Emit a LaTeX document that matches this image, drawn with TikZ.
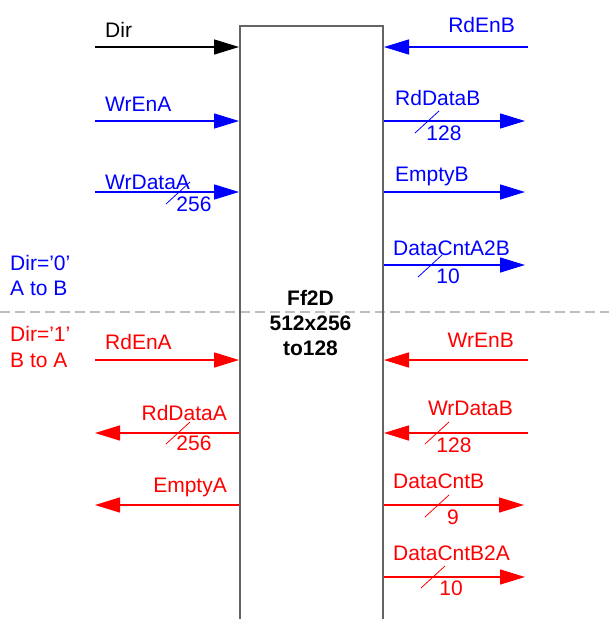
\documentclass[tikz,border=0pt]{standalone}
\usepackage{fontspec}
\setmainfont{Liberation Sans}
\usetikzlibrary{arrows.meta}
\definecolor{sigblue}{RGB}{0,0,255}
\definecolor{sigred}{RGB}{255,0,0}
\definecolor{boxgray}{RGB}{100,100,100}
\definecolor{splitgray}{RGB}{190,190,190}
\tikzset{
  sig/.style={line width=1.5pt, -{Triangle[length=25pt,width=15pt]}},
  bus/.style={line width=0.8pt},
  lbl/.style={font=\fontsize{21}{24}\selectfont, inner sep=0pt},
  lblw/.style={lbl, anchor=base west},
  lble/.style={lbl, anchor=base east},
  num/.style={lbl, anchor=center},
  fifo/.style={draw=boxgray, line width=2pt, minimum width=143pt, minimum height=596pt,
    anchor=north west, inner sep=0pt, align=center,
    font=\fontsize{21}{25}\selectfont\bfseries},
  split/.style={draw=splitgray, line width=2.5pt, dash pattern=on 10pt off 5pt}
}
\begin{document}
\begin{tikzpicture}[x=1pt,y=-1pt]
\useasboundingbox (0,0) rectangle (609,619);

% A/B direction separator
\coordinate (splitL) at (0,312);
\coordinate (splitR) at (609,312);
\draw[split] (splitL) -- (splitR);

% FIFO block
\node[fifo] (ff) at (239,25) {};
\node[lbl, align=center, font=\fontsize{21}{25}\selectfont\bfseries] (fftext) at (310.5,323) {Ff2D\\512x256\\to128};

% free ends of the port lines
\coordinate (dirS) at (95,47);
\coordinate (wrenaS) at (95,121);
\coordinate (wrdataaS) at (95,192);
\coordinate (rdenbS) at (528,47);
\coordinate (rddatabE) at (525,121);
\coordinate (emptybE) at (525,192);
\coordinate (cnta2bE) at (525,265);
\coordinate (rdenaS) at (95,360);
\coordinate (rddataaE) at (95,433);
\coordinate (emptyaE) at (95,505);
\coordinate (wrenbS) at (528,360);
\coordinate (wrdatabS) at (528,433);
\coordinate (cntbE) at (524,505);
\coordinate (cntb2aE) at (525,577);

% direction control
\draw[sig, black] (dirS) -- (ff.west |- dirS);
\node[lblw] (dirL) at (105,37) {Dir};

% A to B (blue)
\begin{scope}[draw=sigblue, color=sigblue]
\draw[sig] (wrenaS) -- (ff.west |- wrenaS);
\node[lblw] (wrenaL) at (105,111) {WrEnA};
\draw[sig] (wrdataaS) -- (ff.west |- wrdataaS);
\node[lblw] (wrdataaL) at (105,189) {WrDataA};
\draw[bus] (166,204) -- ++(24,-22);
\node[num] (wrdataaW) at (194,204) {256};

\draw[sig] (rdenbS) -- (ff.east |- rdenbS);
\node[lble] (rdenbL) at (515,32) {RdEnB};
\draw[sig] (ff.east |- rddatabE) -- (rddatabE);
\node[lblw] (rddatabL) at (395,105) {RdDataB};
\draw[bus] (415,133) -- ++(24,-22);
\node[num] (rddatabW) at (444,133) {128};
\draw[sig] (ff.east |- emptybE) -- (emptybE);
\node[lblw] (emptybL) at (395,181) {EmptyB};
\draw[sig] (ff.east |- cnta2bE) -- (cnta2bE);
\node[lblw] (cnta2bL) at (393,255) {DataCntA2B};
\draw[bus] (418,277) -- ++(24,-22);
\node[num] (cnta2bW) at (448,276) {10};

\node[lblw] (dir0L) at (10,270) {Dir=’0’};
\node[lblw] (atobL) at (10,295) {A to B};
\end{scope}

% B to A (red)
\begin{scope}[draw=sigred, color=sigred]
\node[lblw] (dir1L) at (10,341) {Dir=’1’};
\node[lblw] (btoaL) at (10,367) {B to A};

\draw[sig] (rdenaS) -- (ff.west |- rdenaS);
\node[lblw] (rdenaL) at (105,349) {RdEnA};
\draw[sig] (ff.west |- rddataaE) -- (rddataaE);
\node[lble] (rddataaL) at (227,420) {RdDataA};
\draw[bus] (166,444) -- ++(24,-22);
\node[num] (rddataaW) at (194,443) {256};
\draw[sig] (ff.west |- emptyaE) -- (emptyaE);
\node[lble] (emptyaL) at (227,492) {EmptyA};

\draw[sig] (wrenbS) -- (ff.east |- wrenbS);
\node[lble] (wrenbL) at (514,347) {WrEnB};
\draw[sig] (wrdatabS) -- (ff.east |- wrdatabS);
\node[lble] (wrdatabL) at (513,415) {WrDataB};
\draw[bus] (425,444) -- ++(24,-22);
\node[num] (wrdatabW) at (454,445) {128};
\draw[sig] (ff.east |- cntbE) -- (cntbE);
\node[lblw] (cntbL) at (393,488) {DataCntB};
\draw[bus] (425,517) -- ++(24,-22);
\node[num] (cntbW) at (453,517) {9};
\draw[sig] (ff.east |- cntb2aE) -- (cntb2aE);
\node[lblw] (cntb2aL) at (393,560) {DataCntB2A};
\draw[bus] (421,588) -- ++(24,-22);
\node[num] (cntb2aW) at (451,588) {10};
\end{scope}
\end{tikzpicture}
\end{document}
